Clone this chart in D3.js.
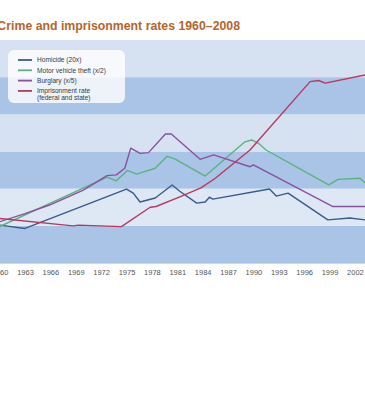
<!DOCTYPE html>
<html>
<head>
<meta charset="utf-8">
<script src="https://cdn.jsdelivr.net/npm/d3@7"></script>
<style>
  html, body { margin: 0; padding: 0; background: #ffffff; overflow: hidden; }
  svg { display: block; font-family: "Liberation Sans", Arial, Helvetica, sans-serif; }
</style>
</head>
<body>
<svg id="chart" width="365" height="405"></svg>
<script>
// ---- data ----
const titleText = "Crime and imprisonment rates 1960\u20132008";
const tickYears = [1960, 1963, 1966, 1969, 1972, 1975, 1978, 1981, 1984, 1987, 1990, 1993, 1996, 1999, 2002];
const bandValues = [0, 100, 200, 300, 400, 500];

const homicide = [[1960,102],[1963,93],[1975,199],[1975.8,188],[1976.6,164],[1978.4,175],[1980.4,210],[1981.3,193],
  [1983.3,161],[1984.3,164],[1984.8,177],[1985.2,172],[1991.9,199],[1992.7,180],[1994.1,188],[1998.8,116],
  [2001.4,121],[2003.2,116],[2008,110]];
const motorTheft = [[1960,98],[1972.7,231],[1973.8,221],[1975.1,249],[1976.2,239],[1978.4,255],[1979.8,287],
  [1980.7,280],[1984.3,234],[1989,326],[1989.8,331],[1990.6,322],[1991.5,304],[1998.9,210],[2000,225],
  [2002.6,228],[2003.2,215],[2008,170]];
const burglary = [[1960,111],[1963,133],[1965.9,156],[1969.9,196],[1972.7,235],[1973.8,237],[1974.8,255],
  [1975.5,309],[1976.6,295],[1977.6,297],[1979.6,347],[1980.3,347],[1983.7,279],[1985.3,291],[1989.6,259],
  [1990,264],[1999.4,152],[2003.2,152],[2008,146]];
const imprisonment = [[1960,120],[1968.7,100],[1969.3,102],[1974.4,98],[1977.8,150],[1978.5,152],[1981.3,178],
  [1983.8,202],[1985.5,228],[1989.6,304],[1996.7,488],[1997.7,491],[1998.5,484],[2003.2,506],[2008,528]];

const seriesNames = ["Homicide (20x)", "Motor vehicle theft (x/2)", "Burglary (x/5)", "Imprisonment rate"];
const seriesColors = ["#3b5a8c", "#5bb37c", "#8d4f9f", "#b8385f"];
const seriesData = [homicide, motorTheft, burglary, imprisonment];

// ---- layout ----
const svg = d3.select("#chart");
const plotTop = 40, plotBottom = 263, plotLeft = 0, plotRight = 365;

const x = d3.scaleLinear().domain([1960, 2008]).range([-0.4, -0.4 + 48 * 8.46]);
const y = d3.scaleLinear().domain([0, 600]).range([plotBottom, plotTop]);

// bands
svg.append("g").selectAll("rect").data(bandValues).join("rect")
  .attr("x", plotLeft).attr("width", plotRight - plotLeft)
  .attr("y", d => y(d + 100)).attr("height", d => y(d) - y(d + 100))
  .attr("fill", (d, i) => (i % 2 === 0) ? "#a9c4e6" : (d === 100 ? "#dee8f5" : "#d6e2f2"));

svg.append("line").attr("x1", plotLeft).attr("x2", plotRight)
  .attr("y1", plotBottom + 0.5).attr("y2", plotBottom + 0.5)
  .attr("stroke", "#c9d7ea").attr("stroke-width", 1);

// x axis labels
const xAxis = d3.axisBottom(x).tickValues(tickYears).tickFormat(d3.format("d")).tickSize(0).tickPadding(7);
const ax = svg.append("g").attr("transform", `translate(0,${plotBottom})`).call(xAxis);
ax.select(".domain").remove();
ax.selectAll("text").attr("font-size", 7.5).attr("fill", "#555").attr("font-family", "'Liberation Sans', Arial, sans-serif");

// lines
const line = d3.line().x(d => x(d[0])).y(d => y(d[1]));
svg.append("defs").append("clipPath").attr("id", "clip")
  .append("rect").attr("x", plotLeft).attr("y", plotTop).attr("width", plotRight - plotLeft).attr("height", plotBottom - plotTop);
const lg = svg.append("g").attr("clip-path", "url(#clip)");
seriesData.forEach((s, i) => {
  lg.append("path").datum(s).attr("d", line)
    .attr("fill", "none").attr("stroke", seriesColors[i]).attr("stroke-width", 1.4)
    .attr("stroke-linejoin", "round");
});

// legend
const leg = svg.append("g");
leg.append("rect").attr("x", 8).attr("y", 50).attr("width", 117).attr("height", 53).attr("rx", 6)
  .attr("fill", "#ffffff").attr("fill-opacity", 0.8);
const rowY = [60, 70.3, 80.6, 90.9];
seriesNames.forEach((n, i) => {
  leg.append("line").attr("x1", 18).attr("x2", 32).attr("y1", rowY[i]).attr("y2", rowY[i])
    .attr("stroke", seriesColors[i]).attr("stroke-width", 1.8);
  leg.append("text").attr("x", 37).attr("y", rowY[i] + 2.2).attr("font-size", 6.6).attr("fill", "#3a3a3a").text(n);
});
leg.append("text").attr("x", 37).attr("y", 97.3 + 2.2).attr("font-size", 6.6).attr("fill", "#3a3a3a").text("(federal and state)");

// title
svg.append("text").attr("x", 240).attr("y", 29.5).attr("text-anchor", "end")
  .attr("font-size", 12.3).attr("font-weight", "bold").attr("fill", "#b5652c").text(titleText);
</script>
</body>
</html>
